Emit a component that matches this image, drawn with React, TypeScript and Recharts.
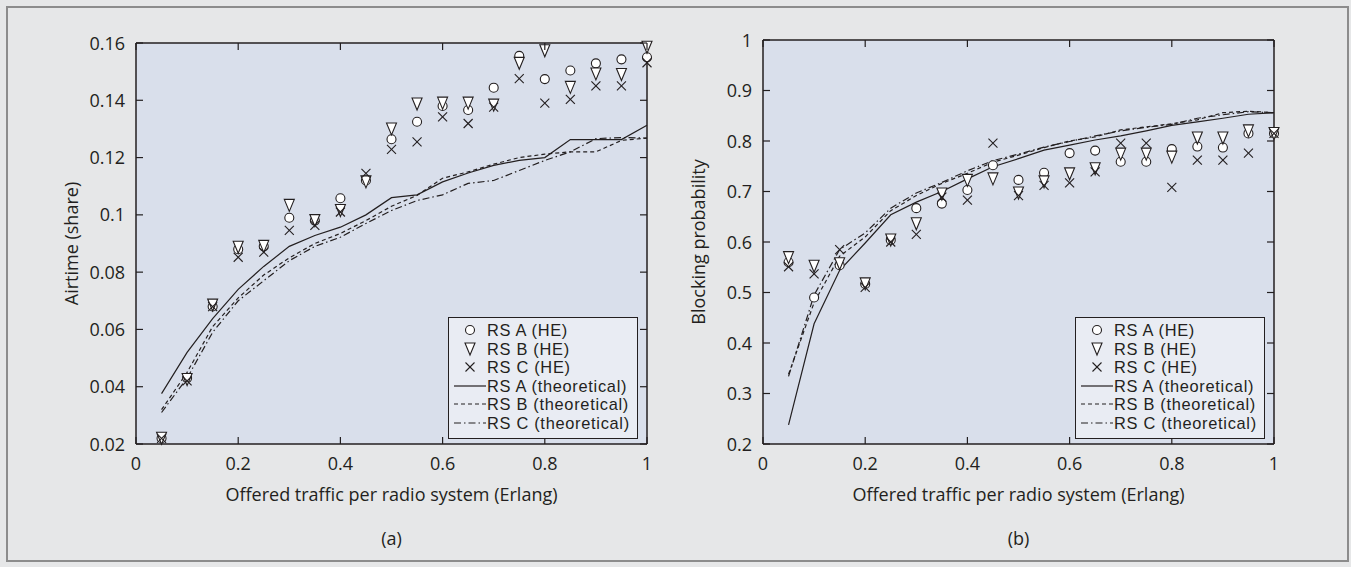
import React from "react";
import { ComposedChart, Line, Scatter, XAxis, YAxis, CartesianGrid, Legend, Label } from "recharts";

// offered traffic per radio system (Erlang)
const trafficLoad = [0.05, 0.1, 0.15, 0.2, 0.25, 0.3, 0.35, 0.4, 0.45, 0.5, 0.55, 0.6, 0.65, 0.7, 0.75, 0.8, 0.85, 0.9, 0.95, 1];
const trafficTicks = [0, 0.2, 0.4, 0.6, 0.8, 1];

// (a) airtime share
const airtimeTicks = [0.02, 0.04, 0.06, 0.08, 0.1, 0.12, 0.14, 0.16];
const airtimeHeA = [0.022, 0.043, 0.068, 0.088, 0.089, 0.099, 0.098, 0.1058, 0.112, 0.1264, 0.1325, 0.138, 0.1366, 0.1444, 0.1555, 0.1474, 0.1504, 0.1529, 0.1543, 0.155];
const airtimeHeB = [0.022, 0.0425, 0.0685, 0.0887, 0.089, 0.1033, 0.098, 0.1015, 0.1115, 0.13, 0.1387, 0.139, 0.139, 0.1383, 0.1529, 0.1573, 0.1445, 0.1492, 0.149, 0.1585];
const airtimeHeC = [0.022, 0.042, 0.068, 0.0852, 0.087, 0.0946, 0.0963, 0.101, 0.1145, 0.1229, 0.1255, 0.1342, 0.1319, 0.1376, 0.1476, 0.139, 0.1403, 0.145, 0.145, 0.1531];
const airtimeThA = [0.0376, 0.052, 0.0638, 0.074, 0.082, 0.089, 0.0928, 0.0957, 0.1, 0.106, 0.107, 0.1115, 0.1146, 0.1173, 0.119, 0.12, 0.1263, 0.1263, 0.1263, 0.1313];
const airtimeThB = [0.032, 0.045, 0.061, 0.071, 0.079, 0.085, 0.09, 0.0935, 0.098, 0.103, 0.1068, 0.1128, 0.115, 0.1177, 0.12, 0.1212, 0.122, 0.122, 0.126, 0.1268];
const airtimeThC = [0.031, 0.043, 0.059, 0.07, 0.077, 0.084, 0.089, 0.0922, 0.097, 0.1015, 0.105, 0.107, 0.111, 0.112, 0.1155, 0.119, 0.122, 0.1266, 0.127, 0.1268];

// (b) blocking probability
const blockingTicks = [0.2, 0.3, 0.4, 0.5, 0.6, 0.7, 0.8, 0.9, 1];
const blockingHeA = [0.56, 0.49, 0.554, 0.517, 0.604, 0.667, 0.676, 0.703, 0.752, 0.723, 0.737, 0.776, 0.781, 0.759, 0.759, 0.784, 0.789, 0.787, 0.815, 0.815];
const blockingHeB = [0.569, 0.552, 0.557, 0.517, 0.604, 0.636, 0.695, 0.722, 0.725, 0.697, 0.719, 0.735, 0.745, 0.774, 0.774, 0.768, 0.806, 0.806, 0.82, 0.815];
const blockingHeC = [0.551, 0.537, 0.585, 0.51, 0.6, 0.615, 0.689, 0.683, 0.796, 0.692, 0.712, 0.717, 0.739, 0.796, 0.796, 0.708, 0.762, 0.762, 0.776, 0.815];
const blockingThA = [0.238, 0.438, 0.544, 0.598, 0.654, 0.679, 0.7, 0.725, 0.749, 0.765, 0.782, 0.792, 0.802, 0.81, 0.82, 0.831, 0.838, 0.845, 0.853, 0.856];
const blockingThB = [0.338, 0.48, 0.572, 0.61, 0.662, 0.692, 0.716, 0.736, 0.758, 0.772, 0.787, 0.8, 0.808, 0.822, 0.828, 0.834, 0.842, 0.856, 0.859, 0.856];
const blockingThC = [0.334, 0.495, 0.585, 0.618, 0.667, 0.697, 0.718, 0.741, 0.761, 0.774, 0.788, 0.799, 0.81, 0.82, 0.827, 0.833, 0.845, 0.852, 0.858, 0.856];

const legendNames = ["RS A (HE)", "RS B (HE)", "RS C (HE)", "RS A (theoretical)", "RS B (theoretical)", "RS C (theoretical)"];

const INK = "#231f20";
const PLOT_BG = "#d9dfeb";
const PAGE_BG = "#e6e7e8";
const FS = 18;
const DASH_B = "4 3";
const DASH_C = "7 3 1.5 3";
const TICK = 7;

const fmt = (v: number) => String(Number(v.toFixed(2)));
const toPoints = (ys: number[]) => trafficLoad.map((x, i) => ({ x, y: ys[i] }));

// markers
const CircleMark = (p: any) => <circle cx={p.cx} cy={p.cy} r={4.5} fill="#fff" stroke={INK} strokeWidth={1.1} />;
const TriMark = (p: any) => (
  <polygon points={`${p.cx - 5},${p.cy - 6} ${p.cx + 5},${p.cy - 6} ${p.cx},${p.cy + 6}`} fill="#fff" stroke={INK} strokeWidth={1.1} />
);
const CrossMark = (p: any) => (
  <g stroke={INK} strokeWidth={1.1}>
    <line x1={p.cx - 4.5} y1={p.cy - 4.5} x2={p.cx + 4.5} y2={p.cy + 4.5} />
    <line x1={p.cx - 4.5} y1={p.cy + 4.5} x2={p.cx + 4.5} y2={p.cy - 4.5} />
  </g>
);

// inward ticks, mirrored on the opposite side of the box
const BottomTick = (p: any) => (
  <g>
    <line x1={p.x} y1={p.y} x2={p.x} y2={p.y - TICK} stroke={INK} strokeWidth={1.2} />
    <line x1={p.x} y1={p.top} x2={p.x} y2={p.top + TICK} stroke={INK} strokeWidth={1.2} />
    <text x={p.x} y={p.y + 26} textAnchor="middle" fill={INK} fontSize={FS}>{fmt(p.payload.value)}</text>
  </g>
);
const LeftTick = (p: any) => (
  <g>
    <line x1={p.x} y1={p.y} x2={p.x + TICK} y2={p.y} stroke={INK} strokeWidth={1.2} />
    <line x1={p.right} y1={p.y} x2={p.right - TICK} y2={p.y} stroke={INK} strokeWidth={1.2} />
    <text x={p.x - 11} y={p.y + 6.5} textAnchor="end" fill={INK} fontSize={FS}>{fmt(p.payload.value)}</text>
  </g>
);

const legendIcon = (i: number) => {
  if (i === 0) return <CircleMark cx={21} cy={9} />;
  if (i === 1) return <TriMark cx={21} cy={9} />;
  if (i === 2) return <CrossMark cx={21} cy={9} />;
  const dash = i === 4 ? DASH_B : i === 5 ? DASH_C : undefined;
  return <line x1={5} y1={9} x2={37} y2={9} stroke={INK} strokeWidth={1.2} strokeDasharray={dash} />;
};

const LegendBox = () => (
  <div style={{ width: 190, height: 122, boxSizing: "border-box", border: `1.5px solid ${INK}`, background: "#e9ecf3", paddingTop: 3 }}>
    {legendNames.map((name, i) => (
      <div key={name} style={{ display: "flex", alignItems: "center", height: 18.5, color: INK }}>
        <svg width={38} height={18} style={{ flex: "none" }}>{legendIcon(i)}</svg>
        <span style={{ whiteSpace: "nowrap", fontFamily: "'Liberation Sans', Arial, sans-serif", fontSize: 16.4, lineHeight: "18px", letterSpacing: 0.7 }}>{name}</span>
      </div>
    ))}
  </div>
);

function Panel(props: any) {
  const { left, plotTop, plotBottom, yDomain, yTicks, yTitle, caption, he, th } = props;
  const W = 660;
  const H = 560;
  const mRight = 8;
  const rightAxisW = 5;
  const plotRight = W - mRight - rightAxisW;
  const rows = trafficLoad.map((x, i) => ({ x, a: th[0][i], b: th[1][i], c: th[2][i] }));
  const axisLine = { stroke: INK, strokeWidth: 1.5 };
  return (
    <div style={{ position: "absolute", left, top: 0 }}>
      <ComposedChart width={W} height={H} data={rows} margin={{ top: plotTop - 5, right: mRight, bottom: 0, left: 8 }}>
        <CartesianGrid horizontal={false} vertical={false} fill={PLOT_BG} fillOpacity={1} stroke="none" />
        <XAxis dataKey="x" type="number" domain={[0, 1]} ticks={trafficTicks} interval={0} height={H - plotBottom}
          tickSize={0} tickMargin={0} tickLine={false} axisLine={axisLine} tick={(p: any) => <BottomTick {...p} top={plotTop} />}>
          <Label value="Offered traffic per radio system (Erlang)" position="insideTop" offset={44} fill={INK} fontSize={FS} />
          <Label value={caption} position="insideTop" offset={88} fill={INK} fontSize={FS} />
        </XAxis>
        <XAxis xAxisId="top" dataKey="x" orientation="top" type="number" domain={[0, 1]} height={5}
          tick={false} tickLine={false} axisLine={axisLine} />
        <YAxis type="number" domain={yDomain} ticks={yTicks} interval={0} width={128}
          tickSize={0} tickMargin={0} tickLine={false} axisLine={axisLine} tick={(p: any) => <LeftTick {...p} right={plotRight} />}>
          <Label value={yTitle} position="center" angle={-90} fill={INK} fontSize={FS} />
        </YAxis>
        <YAxis yAxisId="right" orientation="right" type="number" domain={yDomain} width={rightAxisW}
          tick={false} tickLine={false} axisLine={axisLine} />
        <Line dataKey="a" stroke={INK} strokeWidth={1.2} dot={false} isAnimationActive={false} />
        <Line dataKey="b" stroke={INK} strokeWidth={1.2} strokeDasharray={DASH_B} dot={false} isAnimationActive={false} />
        <Line dataKey="c" stroke={INK} strokeWidth={1.2} strokeDasharray={DASH_C} dot={false} isAnimationActive={false} />
        <Scatter data={toPoints(he[0])} dataKey="y" shape={(p: any) => <CircleMark {...p} />} isAnimationActive={false} />
        <Scatter data={toPoints(he[1])} dataKey="y" shape={(p: any) => <TriMark {...p} />} isAnimationActive={false} />
        <Scatter data={toPoints(he[2])} dataKey="y" shape={(p: any) => <CrossMark {...p} />} isAnimationActive={false} />
        <Legend layout="horizontal" verticalAlign="middle" align="center" content={() => <LegendBox />}
          wrapperStyle={{ left: 448, top: 317, width: 190, height: 122 }} />
      </ComposedChart>
    </div>
  );
}

export default function App() {
  return (
    <div style={{ position: "absolute", left: 0, top: 0, width: 1351, height: 567, background: PAGE_BG, fontFamily: "'Open Sans', sans-serif", overflow: "hidden" }}>
      <div style={{ position: "absolute", left: 6, top: 6, width: 1339, height: 552, border: "2px solid #8c8c8c" }} />
      <Panel left={0} plotTop={43} plotBottom={444} yDomain={[0.02, 0.16]} yTicks={airtimeTicks} yTitle="Airtime (share)" caption="(a)"
        he={[airtimeHeA, airtimeHeB, airtimeHeC]} th={[airtimeThA, airtimeThB, airtimeThC]} />
      <Panel left={627} plotTop={40} plotBottom={444} yDomain={[0.2, 1]} yTicks={blockingTicks} yTitle="Blocking probability" caption="(b)"
        he={[blockingHeA, blockingHeB, blockingHeC]} th={[blockingThA, blockingThB, blockingThC]} />
    </div>
  );
}
